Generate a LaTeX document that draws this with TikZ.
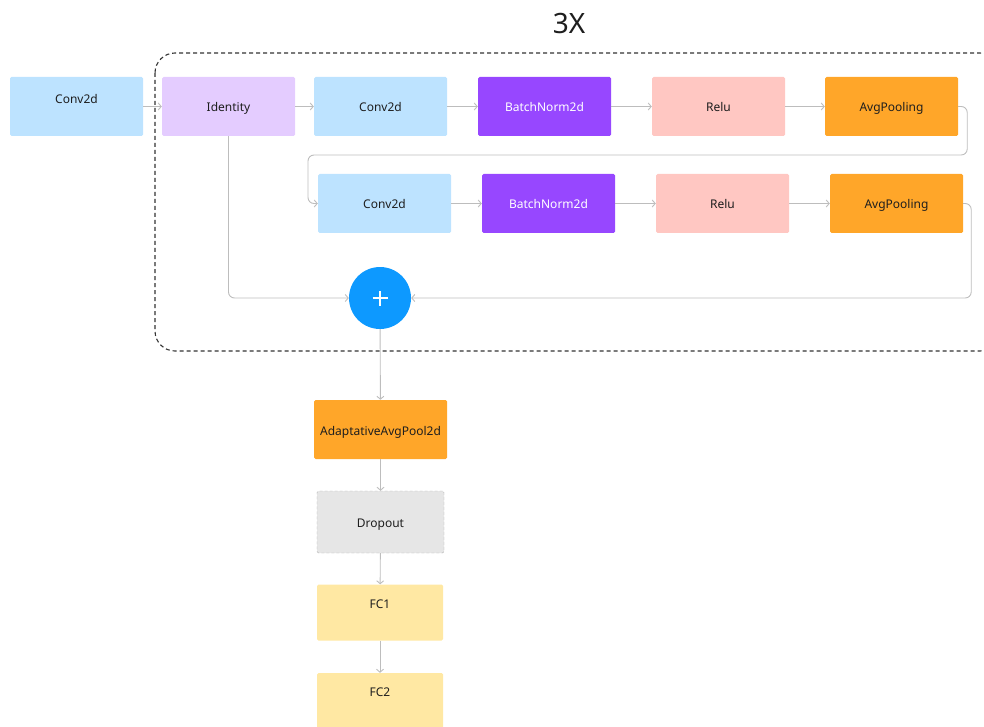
\documentclass[tikz,border=0pt]{standalone}
\usepackage{fontspec}
\setmainfont{Noto Sans}
\usetikzlibrary{arrows.meta}
\definecolor{cblue}{HTML}{BDE3FF}
\definecolor{cpurp}{HTML}{E4CCFF}
\definecolor{cviolet}{HTML}{9747FF}
\definecolor{cpink}{HTML}{FFC7C2}
\definecolor{corange}{HTML}{FFA629}
\definecolor{cyell}{HTML}{FFE8A3}
\definecolor{cgrey}{HTML}{E6E6E6}
\definecolor{cplus}{HTML}{0D99FF}
\definecolor{cline}{HTML}{BDBDBD}
\definecolor{ctext}{HTML}{1E1E1E}
\tikzset{
  blk/.style={minimum width=133pt, minimum height=59pt, inner sep=0pt, rounded corners=1.5pt, font=\fontsize{12}{14}\selectfont, text=ctext, text height=11pt, text depth=0pt},
  conn/.style={draw=cline, line width=0.9pt, -{Straight Barb[length=3pt,width=7pt]}, rounded corners=6pt},
}
\begin{document}
\begin{tikzpicture}[x=1pt,y=-1pt]
\useasboundingbox (0,0) rectangle (984,727);
% dashed group
\draw[draw=black!80, line width=1.1pt, dash pattern=on 4pt off 3pt, rounded corners=20pt] (155,53) rectangle (1000,351);
\node[font=\fontsize{28}{30}\selectfont, text=ctext] (rep) at (569,24) {3X};
% row 0
\node[blk, fill=cblue] (c0) at (76.5,106.5) {\raisebox{8.5pt}{Conv2d}};
\node[blk, fill=cpurp] (id) at (228.5,106.5) {Identity};
\node[blk, fill=cblue] (c1) at (380.5,106.5) {Conv2d};
\node[blk, fill=cviolet, text=white] (b1) at (544.5,106.5) {BatchNorm2d};
\node[blk, fill=cpink] (r1) at (718.5,106.5) {Relu};
\node[blk, fill=corange] (a1) at (891.5,106.5) {AvgPooling};
% row 2
\node[blk, fill=cblue] (c2) at (384.5,203.5) {Conv2d};
\node[blk, fill=cviolet, text=white] (b2) at (548.5,203.5) {BatchNorm2d};
\node[blk, fill=cpink] (r2) at (722.5,203.5) {Relu};
\node[blk, fill=corange] (a2) at (896.5,203.5) {AvgPooling};
% plus
\node[circle, fill=cplus, minimum size=62pt, inner sep=0pt] (plus) at (380,298) {};
\draw[white, line width=2.5pt] ([xshift=-7.5pt]plus.center) -- ([xshift=7.5pt]plus.center)
  ([yshift=-7.5pt]plus.center) -- ([yshift=7.5pt]plus.center);
% lower column
\node[blk, fill=corange] (ad) at (380.5,429.5) {AdaptativeAvgPool2d};
\node[blk, fill=cgrey, draw=black!30, dash pattern=on 3pt off 2pt, minimum width=127pt, minimum height=62pt] (dr) at (380.5,522) {Dropout};
\node[blk, fill=cyell, minimum width=126pt, minimum height=56pt] (f1) at (380,612.5) {\raisebox{9.7pt}{FC1}};
\node[blk, fill=cyell, minimum width=126pt, minimum height=56pt] (f2) at (380,701) {\raisebox{10pt}{FC2}};
% connectors
\draw[conn] (c0) -- (id);
\draw[conn] (id) -- (c1);
\draw[conn] (c1) -- (b1);
\draw[conn] (b1) -- (r1);
\draw[conn] (r1) -- (a1);
\draw[conn] (a1.east) -- ++(9,0) |- (308,155) |- (c2.west);
\draw[conn] (c2) -- (b2);
\draw[conn] (b2) -- (r2);
\draw[conn] (r2) -- (a2);
\draw[conn] (a2.east) -- ++(8,0) |- (plus.east);
\draw[conn] (id.south) |- (plus.west);
\draw[conn, rounded corners=0pt] (plus) -- (ad);
\draw[conn] (ad) -- (dr);
\draw[conn] (dr) -- (f1);
\draw[conn] (f1) -- (f2);
\end{tikzpicture}
\end{document}
